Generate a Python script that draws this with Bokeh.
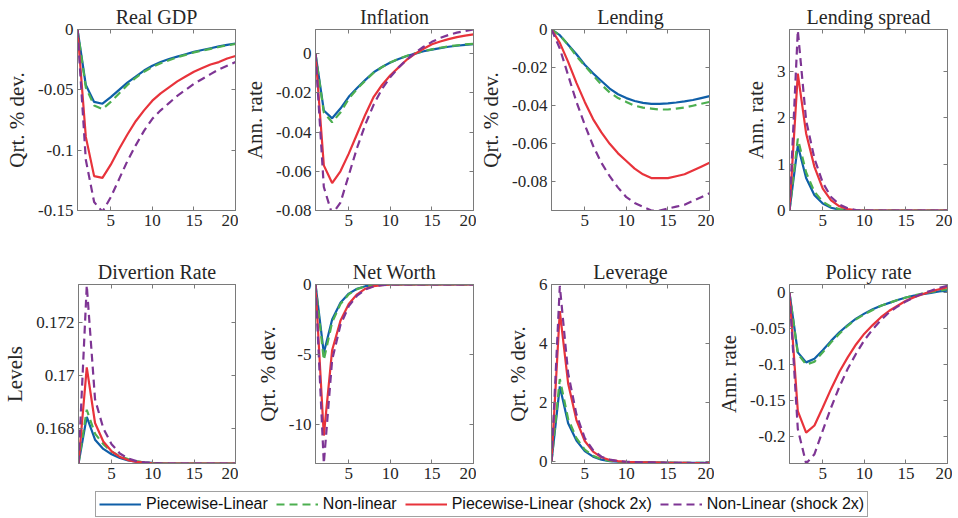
from bokeh.plotting import figure
from bokeh.layouts import column, row
from bokeh.models import FixedTicker, LinearAxis, Range1d, Legend, LegendItem
from bokeh.embed import file_html
from bokeh.resources import INLINE

periods = list(range(1, 21))
x_ticks = [5, 10, 15, 20]

series_names = ["Piecewise-Linear", "Non-linear", "Piecewise-Linear (shock 2x)", "Non-Linear (shock 2x)"]
series_colors = ["#0F5FA8", "#4CAF50", "#E8333B", "#7E3594"]
series_dash = ["solid", "8 5", "solid", "8 5"]

# Real GDP
gdp_pl = [0, -0.046, -0.060, -0.0615, -0.056, -0.050, -0.044, -0.039, -0.034, -0.030, -0.027, -0.0245, -0.0225, -0.0205, -0.0185, -0.017, -0.0155, -0.014, -0.0128, -0.0116]
gdp_nl = [0, -0.048, -0.063, -0.066, -0.060, -0.053, -0.046, -0.040, -0.035, -0.031, -0.028, -0.0255, -0.023, -0.021, -0.019, -0.0175, -0.016, -0.0145, -0.013, -0.012]
gdp_pl2 = [0, -0.089, -0.1215, -0.123, -0.112, -0.099, -0.087, -0.076, -0.067, -0.059, -0.053, -0.048, -0.043, -0.039, -0.035, -0.032, -0.029, -0.027, -0.024, -0.022]
gdp_nl2 = [0, -0.108, -0.143, -0.151, -0.139, -0.124, -0.109, -0.096, -0.084, -0.074, -0.067, -0.061, -0.055, -0.050, -0.045, -0.041, -0.037, -0.033, -0.030, -0.027]

# Inflation
inf_pl = [0, -0.029, -0.033, -0.028, -0.022, -0.0175, -0.0134, -0.0095, -0.0068, -0.0045, -0.0027, -0.0012, 0.0, 0.0012, 0.002, 0.0028, 0.0035, 0.004, 0.0045, 0.0048]
inf_nl = [0, -0.030, -0.035, -0.030, -0.023, -0.018, -0.0137, -0.0097, -0.0069, -0.0045, -0.0026, -0.0011, 0.0002, 0.0013, 0.0022, 0.003, 0.0037, 0.0042, 0.0047, 0.005]
inf_pl2 = [0, -0.057, -0.066, -0.060, -0.051, -0.041, -0.031, -0.022, -0.016, -0.011, -0.007, -0.003, 0.0, 0.0025, 0.0048, 0.0062, 0.0074, 0.0084, 0.0092, 0.0098]
inf_nl2 = [0, -0.068, -0.082, -0.076, -0.062, -0.048, -0.036, -0.026, -0.018, -0.012, -0.007, -0.003, 0.0005, 0.0035, 0.006, 0.008, 0.0095, 0.0107, 0.0116, 0.0123]

# Lending
lend_pl = [0, -0.003, -0.008, -0.013, -0.0185, -0.023, -0.027, -0.031, -0.034, -0.036, -0.0375, -0.0385, -0.039, -0.039, -0.0388, -0.0383, -0.0377, -0.037, -0.036, -0.035]
lend_nl = [0, -0.003, -0.008, -0.014, -0.019, -0.024, -0.029, -0.033, -0.036, -0.038, -0.040, -0.041, -0.0415, -0.042, -0.042, -0.0415, -0.041, -0.040, -0.039, -0.038]
lend_pl2 = [0, -0.007, -0.017, -0.028, -0.038, -0.047, -0.054, -0.060, -0.065, -0.069, -0.073, -0.076, -0.078, -0.078, -0.078, -0.077, -0.076, -0.074, -0.072, -0.070]
lend_nl2 = [0, -0.010, -0.024, -0.038, -0.050, -0.061, -0.070, -0.077, -0.083, -0.088, -0.091, -0.093, -0.095, -0.095, -0.094, -0.093, -0.092, -0.090, -0.088, -0.086]

# Lending spread
spr_pl = [0, 1.40, 0.70, 0.33, 0.15, 0.06, 0.02, 0.005, 0, 0, 0, 0, 0, 0, 0, 0, 0, 0, 0, 0]
spr_nl = [0, 1.55, 0.82, 0.40, 0.19, 0.08, 0.03, 0.01, 0, 0, 0, 0, 0, 0, 0, 0, 0, 0, 0, 0]
spr_pl2 = [0, 2.95, 1.66, 0.94, 0.47, 0.22, 0.09, 0.03, 0.005, 0, 0, 0, 0, 0, 0, 0, 0, 0, 0, 0]
spr_nl2 = [0, 3.88, 1.94, 1.12, 0.60, 0.29, 0.13, 0.05, 0.01, 0, 0, 0, 0, 0, 0, 0, 0, 0, 0, 0]

# Divertion rate
div_pl = [0.16667, 0.16843, 0.16757, 0.16722, 0.16702, 0.16688, 0.16679, 0.16674, 0.16671, 0.16669, 0.16668, 0.16667, 0.16667, 0.16667, 0.16667, 0.16667, 0.16667, 0.16667, 0.16667, 0.16667]
div_nl = [0.16667, 0.16870, 0.16780, 0.16740, 0.16712, 0.16695, 0.16684, 0.16676, 0.16671, 0.16668, 0.16667, 0.16667, 0.16667, 0.16667, 0.16667, 0.16667, 0.16667, 0.16667, 0.16667, 0.16667]
div_pl2 = [0.16667, 0.17030, 0.16820, 0.16750, 0.16713, 0.16692, 0.16680, 0.16673, 0.16670, 0.16668, 0.16667, 0.16667, 0.16667, 0.16667, 0.16667, 0.16667, 0.16667, 0.16667, 0.16667, 0.16667]
div_nl2 = [0.16667, 0.17340, 0.16910, 0.16800, 0.16740, 0.16705, 0.16686, 0.16676, 0.16671, 0.16668, 0.16667, 0.16667, 0.16667, 0.16667, 0.16667, 0.16667, 0.16667, 0.16667, 0.16667, 0.16667]

# Net worth
nw_pl = [0, -4.9, -2.5, -1.3, -0.65, -0.3, -0.12, -0.04, -0.01, 0, 0, 0, 0, 0, 0, 0, 0, 0, 0, 0]
nw_nl = [0, -5.4, -2.7, -1.4, -0.7, -0.33, -0.13, -0.05, -0.01, 0, 0, 0, 0, 0, 0, 0, 0, 0, 0, 0]
nw_pl2 = [0, -10.8, -4.7, -2.6, -1.4, -0.7, -0.3, -0.12, -0.04, 0, 0, 0, 0, 0, 0, 0, 0, 0, 0, 0]
nw_nl2 = [0, -12.8, -5.4, -2.9, -1.55, -0.8, -0.35, -0.14, -0.05, 0, 0, 0, 0, 0, 0, 0, 0, 0, 0, 0]

# Leverage
lev_pl = [0, 2.55, 1.30, 0.72, 0.36, 0.17, 0.07, 0.02, 0.0, -0.01, -0.015, -0.02, -0.025, -0.03, -0.03, -0.035, -0.035, -0.04, -0.04, -0.04]
lev_nl = [0, 2.80, 1.45, 0.80, 0.41, 0.20, 0.08, 0.03, 0.0, -0.01, -0.015, -0.02, -0.025, -0.03, -0.03, -0.035, -0.035, -0.04, -0.04, -0.04]
lev_pl2 = [0, 5.10, 2.65, 1.41, 0.70, 0.34, 0.15, 0.06, 0.02, 0.0, -0.01, -0.02, -0.025, -0.03, -0.035, -0.04, -0.04, -0.045, -0.045, -0.05]
lev_nl2 = [0, 5.95, 3.00, 1.60, 0.80, 0.39, 0.17, 0.07, 0.02, 0.0, -0.01, -0.02, -0.025, -0.03, -0.035, -0.04, -0.04, -0.045, -0.045, -0.05]

# Policy rate
pol_pl = [0, -0.083, -0.097, -0.092, -0.080, -0.067, -0.055, -0.045, -0.036, -0.029, -0.023, -0.018, -0.014, -0.010, -0.0065, -0.004, -0.002, 0.0, 0.002, 0.003]
pol_nl = [0, -0.085, -0.100, -0.096, -0.083, -0.069, -0.057, -0.046, -0.037, -0.030, -0.024, -0.018, -0.014, -0.010, -0.0065, -0.0035, -0.001, 0.001, 0.003, 0.005]
pol_pl2 = [0, -0.165, -0.195, -0.185, -0.160, -0.134, -0.110, -0.090, -0.072, -0.057, -0.045, -0.034, -0.025, -0.018, -0.011, -0.006, -0.002, 0.002, 0.005, 0.008]
pol_nl2 = [0, -0.190, -0.238, -0.225, -0.192, -0.160, -0.131, -0.106, -0.085, -0.066, -0.051, -0.038, -0.027, -0.019, -0.012, -0.006, -0.001, 0.003, 0.007, 0.010]

panels = [
    ("Real GDP", "Qrt. % dev.", [gdp_pl, gdp_nl, gdp_pl2, gdp_nl2], (-0.15, 0.0),
     [0, -0.05, -0.1, -0.15], ["0", "-0.05", "-0.1", "-0.15"]),
    ("Inflation", "Ann. rate", [inf_pl, inf_nl, inf_pl2, inf_nl2], (-0.08, 0.0123),
     [0, -0.02, -0.04, -0.06, -0.08], ["0", "-0.02", "-0.04", "-0.06", "-0.08"]),
    ("Lending", "Qrt. % dev.", [lend_pl, lend_nl, lend_pl2, lend_nl2], (-0.095, 0.0),
     [0, -0.02, -0.04, -0.06, -0.08], ["0", "-0.02", "-0.04", "-0.06", "-0.08"]),
    ("Lending spread", "Ann. rate", [spr_pl, spr_nl, spr_pl2, spr_nl2], (0.0, 3.9),
     [0, 1, 2, 3], ["0", "1", "2", "3"]),
    ("Divertion Rate", "Levels", [div_pl, div_nl, div_pl2, div_nl2], (0.16667, 0.17343),
     [0.168, 0.17, 0.172], ["0.168", "0.17", "0.172"]),
    ("Net Worth", "Qrt. % dev.", [nw_pl, nw_nl, nw_pl2, nw_nl2], (-12.8, 0.0),
     [0, -5, -10], ["0", "-5", "-10"]),
    ("Leverage", "Qrt. % dev.", [lev_pl, lev_nl, lev_pl2, lev_nl2], (-0.06, 6.0),
     [0, 2, 4, 6], ["0", "2", "4", "6"]),
    ("Policy rate", "Ann. rate", [pol_pl, pol_nl, pol_pl2, pol_nl2], (-0.238, 0.0116),
     [0, -0.05, -0.1, -0.15, -0.2], ["0", "-0.05", "-0.1", "-0.15", "-0.2"]),
]

GREY = "#7a7a7a"
TXT = "#262626"
SERIF = "Liberation Serif"
FIG_W = 238
FRAME_W = 158
LEFTS = [77, 77, 75, 75]


def make_panel(title, ylabel, ys, yr, yticks, ylabels, idx):
    row_idx, col_idx = divmod(idx, 4)
    if row_idx == 0:
        h, top, bottom = 255, 29, 45
    else:
        h, top, bottom = 233, 29, 25
    left = LEFTS[col_idx]
    right = FIG_W - left - FRAME_W
    p = figure(width=FIG_W, height=h, x_range=Range1d(1, 20), y_range=Range1d(*yr),
               toolbar_location=None, output_backend="svg",
               min_border_left=left, min_border_right=right,
               min_border_top=top, min_border_bottom=bottom)
    p.title.text = title
    p.title.align = "center"
    p.title.text_font = SERIF
    p.title.text_font_size = "20px"
    p.title.text_font_style = "normal"
    p.title.text_color = TXT
    p.title.standoff = 3
    p.grid.visible = False
    p.outline_line_color = GREY
    p.background_fill_color = "white"
    p.border_fill_color = "white"

    p.xaxis.ticker = FixedTicker(ticks=x_ticks)
    p.yaxis.ticker = FixedTicker(ticks=yticks)
    p.yaxis.major_label_overrides = {t: l for t, l in zip(yticks, ylabels)}
    for ax in (p.xaxis[0], p.yaxis[0]):
        ax.major_tick_in = 4
        ax.major_tick_out = 0
        ax.minor_tick_in = 0
        ax.minor_tick_out = 0
        ax.axis_line_color = GREY
        ax.major_tick_line_color = GREY
        ax.major_label_text_font = SERIF
        ax.major_label_text_font_size = "17px"
        ax.major_label_text_color = TXT
        ax.major_label_standoff = 4
    p.yaxis.axis_label = ylabel
    p.yaxis.axis_label_text_font = SERIF
    p.yaxis.axis_label_text_font_size = "21px"
    p.yaxis.axis_label_text_font_style = "normal"
    p.yaxis.axis_label_text_color = TXT
    p.yaxis.axis_label_standoff = 6

    for loc, tk in (("above", x_ticks), ("right", yticks)):
        ax = LinearAxis(ticker=FixedTicker(ticks=tk), major_label_text_font_size="1px",
                        major_label_text_color=None,
                        major_label_standoff=0, major_tick_in=4, major_tick_out=0,
                        minor_tick_in=0, minor_tick_out=0, axis_line_color=GREY,
                        major_tick_line_color=GREY)
        p.add_layout(ax, loc)

    for y, c, d in zip(ys, series_colors, series_dash):
        p.line(periods, y, line_color=c, line_width=2.2, line_dash=d)
    return p


figs = [make_panel(*spec, idx=i) for i, spec in enumerate(panels)]

# Legend strip: the series are drawn outside the visible x range, only the legend shows
leg = figure(width=FIG_W * 4, height=30, toolbar_location=None, output_backend="svg",
             min_border=0, x_range=Range1d(-3, -2), y_range=Range1d(-1, 1))
leg.axis.visible = False
leg.grid.visible = False
leg.outline_line_color = None
items = []
for name, ys_, c, d in zip(series_names, panels[0][2], series_colors, series_dash):
    r = leg.line(periods, ys_, line_color=c, line_width=2.2, line_dash=d)
    items.append(LegendItem(label=name, renderers=[r]))
legend = Legend(items=items, orientation="horizontal", location=(95, 1),
                label_text_font="Liberation Sans", label_text_font_size="16px",
                label_text_color="#111111",
                glyph_width=42, glyph_height=18, label_height=18, label_standoff=5,
                spacing=8, padding=3, margin=0, border_line_color="#444444",
                border_line_width=1, background_fill_alpha=1.0)
leg.add_layout(legend, "center")

layout = column(row(*figs[:4]), row(*figs[4:]), leg)

open("out.html", "w").write(file_html(layout, INLINE))
